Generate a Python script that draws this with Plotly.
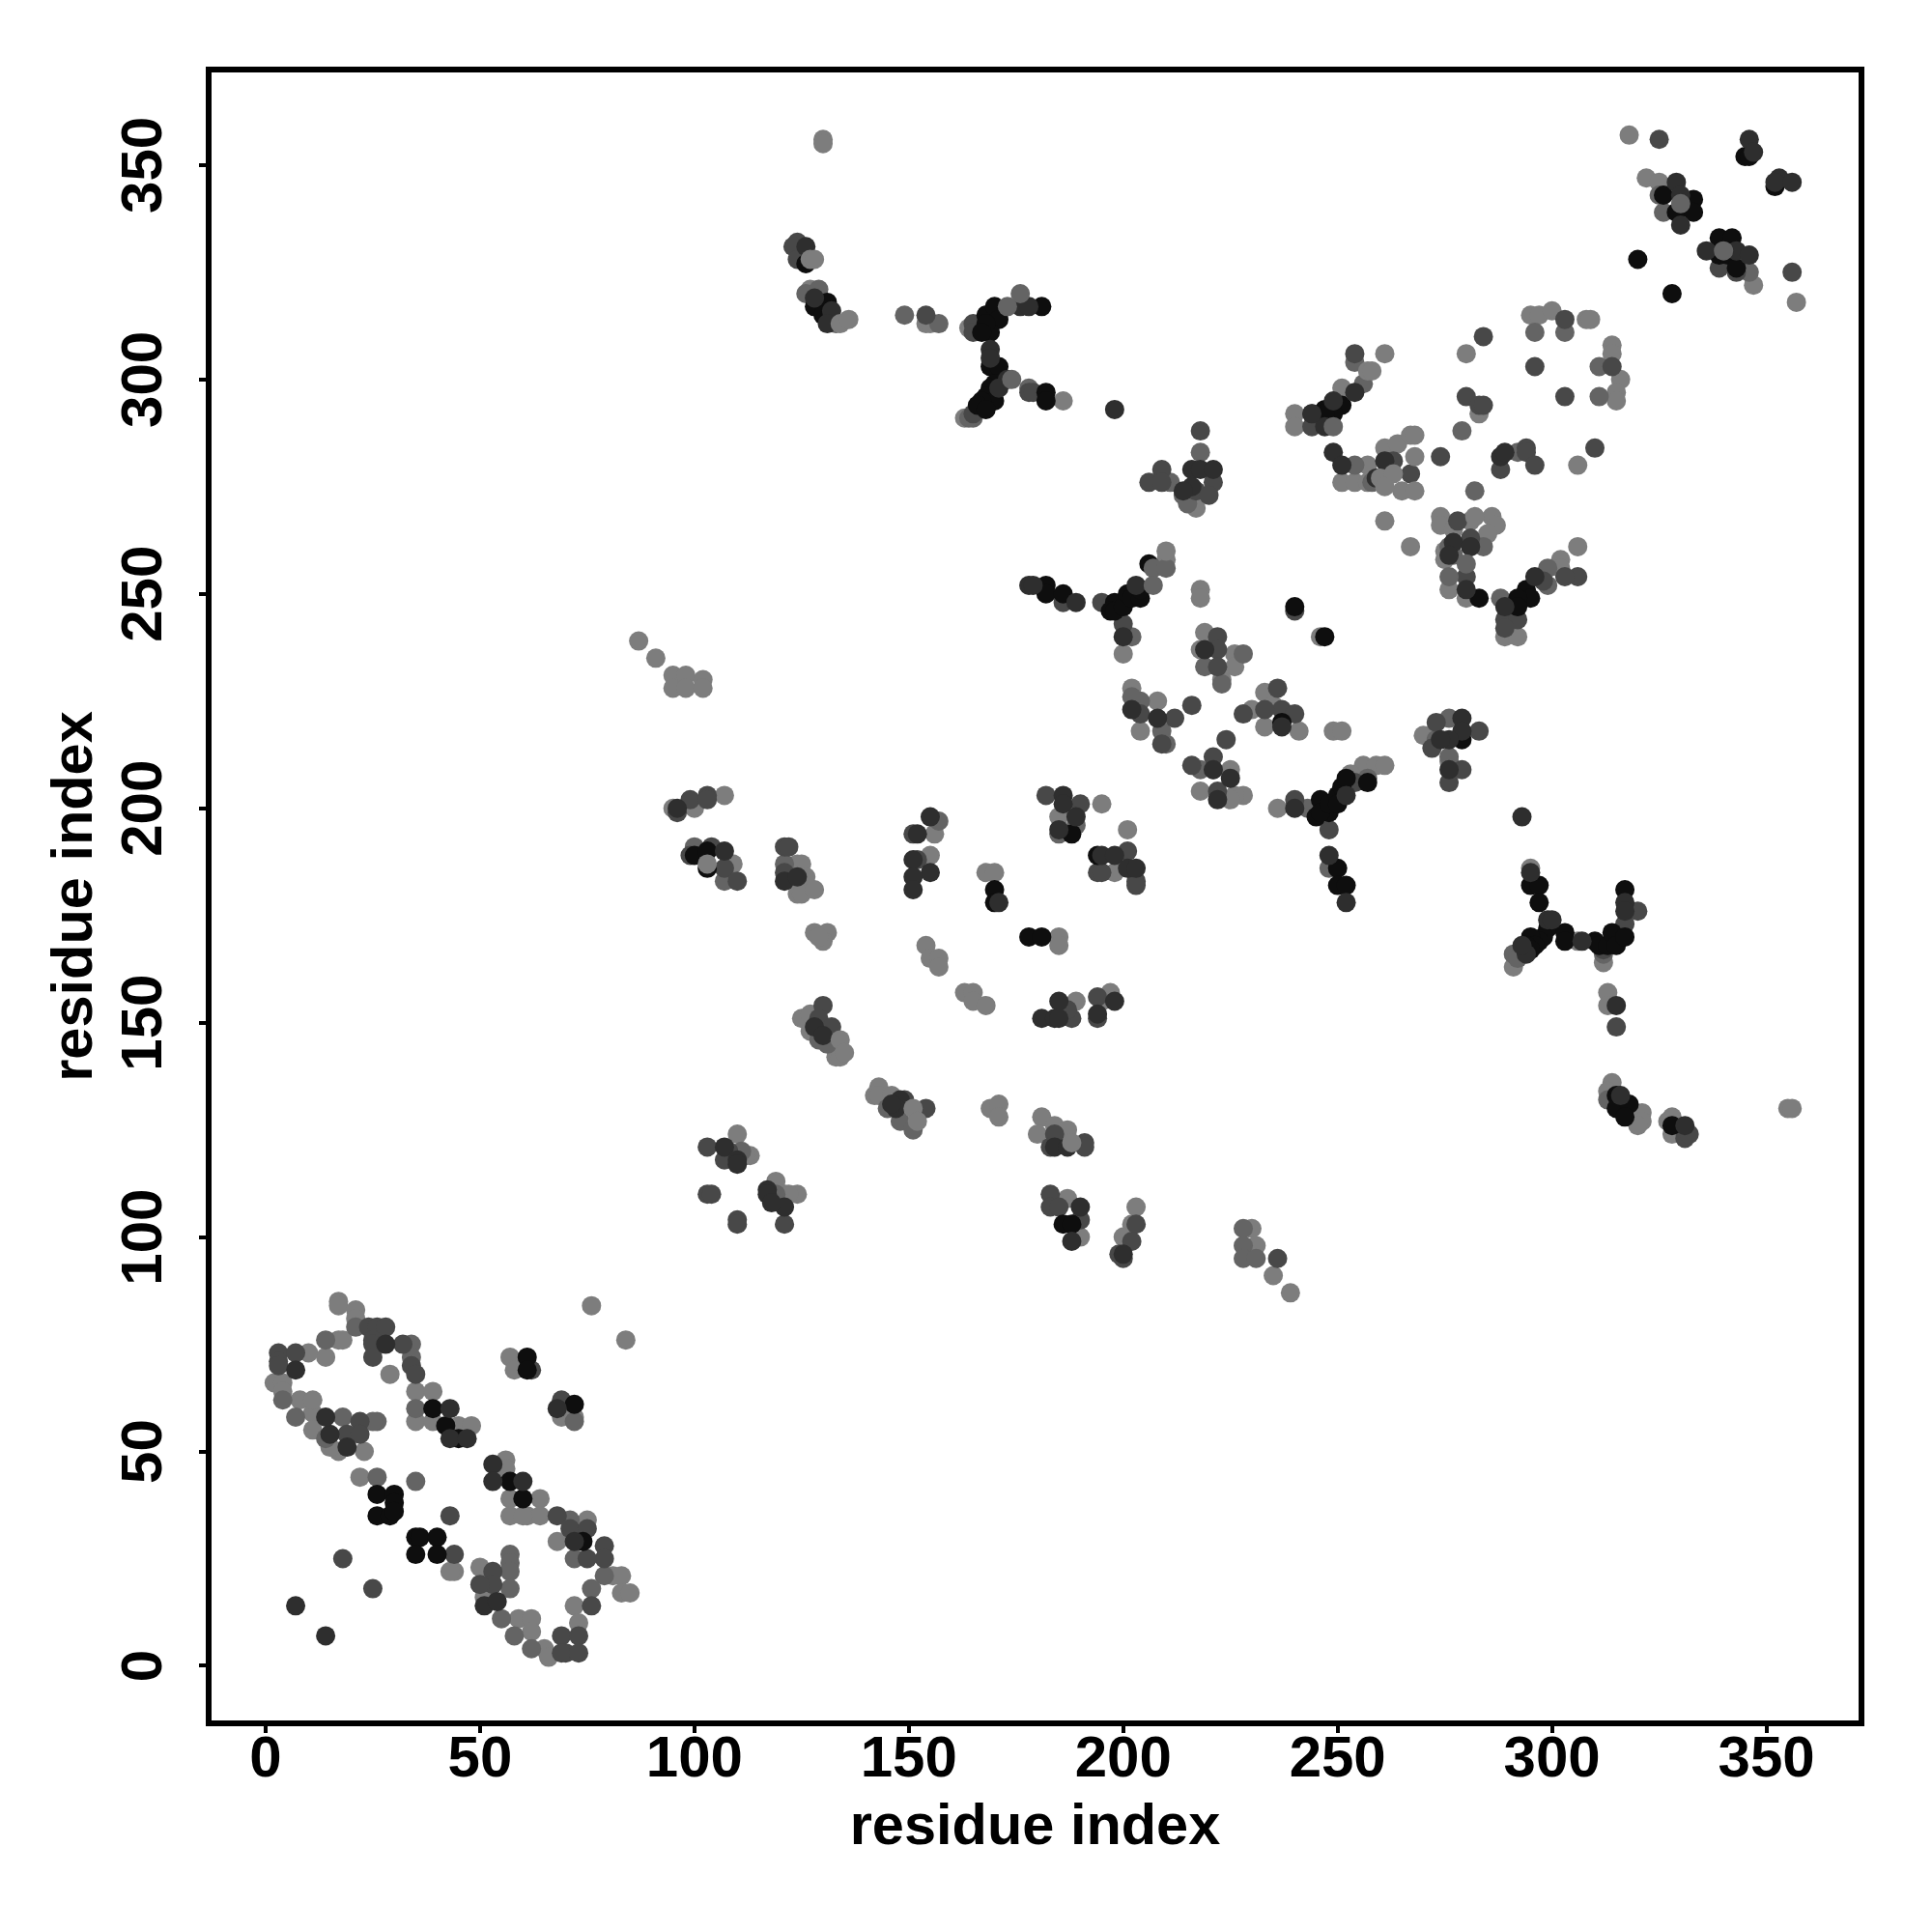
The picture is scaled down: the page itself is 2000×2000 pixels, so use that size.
import plotly.graph_objects as go

TICKS = [0, 50, 100, 150, 200, 250, 300, 350]
AXIS_TITLE = "residue index"

# [residue index, residue index] contact pairs, grouped by grey level
light = [(17,85),(17,84),(21,83),(21,81),(14,72),(10,73),(17,76),(18,76),(2,66),(4,66),(4,64),(29,68),(35,64),(39,64),(35,57),(39,57),
 (45,56),(48,56),(22,44),(23,50),(17,50),(15,51),(11,59),(8,62),(11,62),(11,55),(44,22),(43,22),(56,48),(56,46),(57,39),(64,39),(57,35),
 (61,35),(64,35),(60,35),(68,29),(75,34),(50,23),(81,21),(83,21),(83,17),(85,17),(72,14),(73,10),(76,84),(84,76),(57,72),(58,69),(69,58),
 (72,58),(59,11),(62,11),(65,4),(66,2),(62,8),(50,19),(51,16),
 (130,356),(130,355),(127,321),(163,291),(154,313),(155,313),(164,312),(186,295),(217,270),
 (318,357),(322,347),(325,346),(347,322),(357,318),
 (280,306),(261,306),(295,315),(297,315),(300,316),(308,314),(309,314),(314,308),(314,306),(316,300),(315,297),(315,295),(283,292),
 (251,298),(240,292),(240,289),(257,280),(261,284),(264,285),(267,287),(268,287),(251,276),(254,276),(257,276),(265,274),(306,280),
 (261,267),(267,261),(274,268),(274,266),(286,268),(287,266),(277,265),(285,264),(281,267),(275,260),(275,258),(276,251),(280,249),
 (306,261),(302,258),(302,256),(289,240),(292,240),(246,240),
 (200,236),(210,258),(218,251),(218,249),(219,241),(218,237),(226,236),(226,233),(223,230),(202,228),(208,225),(204,218),(233,227),
 (230,223),(235,224),(233,219),(241,218),(249,218),(251,218),(225,209),(218,204),(228,203),(226,203),(225,202),(236,200),(256,210),
 (259,210),(261,210),(253,208),(270,217),(276,211),(195,201),(185,198),(201,195),(198,185),
 (295,186),(291,163),(306,169),(312,164),(313,157),(313,154),(314,136),(313,134),(321,129),(321,127),(320,126),(328,128),(327,127),(328,124),(355,130),(356,130),
 (87,239),(91,235),(95,231),(98,231),(102,230),(95,228),(98,228),(102,228),(95,200),(100,200),(107,203),(109,187),(124,187),(125,187),(126,184),
 (124,180),(125,180),(128,181),(128,171),(131,171),(130,169),(129,170),(154,168),(156,194),(155,189),(168,185),(170,185),
 (155,165),(157,165),(157,163),(163,157),(165,157),(165,155),(168,154),(185,170),(185,168),(189,155),(197,157),(195,155),(125,151),(127,152),(127,148),(133,142),(134,142),
 (143,135),(142,133),(143,133),(146,133),(169,130),(171,131),(171,128),(181,128),(180,124),(184,126),(187,125),(187,109),(190,100),(203,107),(202,103),(200,100),
 (110,124),(113,119),(112,119),(119,113),(121,110),(124,110),(122,110),(230,102),(231,98),(235,91),(239,87)]

mid = [(21,79),(14,76),(34,75),(34,72),(35,60),(18,58),(26,57),(25,57),(7,58),(4,62),(14,53),(26,44),(35,43),(57,26),(57,24),(57,22),(71,34),(72,25),(79,21),(76,18),(55,11),(58,7),(62,4),(72,57),(57,18),
 (126,320),(129,321),(133,313),(149,315),(157,313),(165,291),(164,291),(178,298),(218,283),(211,276),(214,273),(215,271),
 (325,343),(326,339),(346,325),
 (296,311),(303,311),(311,303),(311,296),(279,288),(254,304),(256,299),(258,276),(292,283),
 (284,261),(276,261),(277,259),(299,256),(299,252),(288,249),
 (202,240),(221,209),(218,209),(219,233),(204,225),(209,218),(210,215),(223,229),(243,200),(257,207),(248,186),(202,226),
 (276,221),(273,216),(276,212),(189,196),(185,194),
 (291,166),(292,165),(312,166),(313,132),(107,183),(121,187),(157,197),(100,191),
 (129,146),(131,145),(145,130),(148,127),(151,125),(228,102),(228,98),(228,95),(231,95),(111,120),(119,110),
 (282,274),(254,280)]

dark = [(24,79),(26,79),(28,79),(25,76),(25,75),(32,75),(3,73),(7,73),(3,71),(3,70),(34,70),(35,68),(22,57),(19,54),(22,54),(43,35),(44,26),(68,35),(71,32),(75,32),(79,28),(79,25),(75,25),(53,22),(76,14),(69,7),(73,7),(70,3),(69,3),(73,3),(18,25),(25,18),(53,19),(50,19),(62,69),(69,62),(25,72),
 (124,332),(123,331),(124,328),(154,315),(165,313),(165,311),(165,292),(178,297),(179,297),
 (218,288),(209,279),(206,276),(209,276),(221,276),(217,274),(220,273),
 (325,356),(339,326),(343,325),(356,325),
 (284,310),(254,306),(303,314),(296,303),(314,303),(303,296),(280,296),(283,294),(284,294),(244,292),(244,289),(263,281),(267,278),(274,282),(288,279),(294,284),(294,283),(296,280),(310,284),
 (278,267),(281,263),(280,254),(306,254),(303,254),(298,253),(289,244),(292,244),(289,242),(240,246),
 (186,248),(195,248),(200,243),(222,240),(222,237),(222,233),(204,222),(212,221),(209,215),(216,224),(236,228),(228,222),(237,223),(240,222),(233,223),(224,216),(221,212),(216,210),(222,204),(240,202),(248,195),(254,206),
 (273,220),(283,218),(272,214),(279,209),(276,206),(182,203),(190,201),(201,190),(194,185),(195,185),(203,183),(203,182),
 (320,176),(331,123),(332,124),(317,173),(312,167),(315,149),
 (96,199),(99,202),(103,203),(103,202),(99,189),(104,191),(107,186),(110,183),(121,191),(122,191),(121,185),(151,194),(152,188),
 (188,151),(187,153),(194,156),(194,151),(130,154),(129,151),(132,149),(149,132),(154,130),(184,124),(183,121),(191,122),(191,121),(183,110),(183,107),(185,107),(190,104),(203,103),(202,99),(199,96),(200,95),
 (103,121),(108,120),(107,118),(103,110),(104,110),(110,104),(110,103),(121,103),(236,95)]

vdark = [(7,69),(15,54),(14,58),(19,51),(43,60),(53,47),(53,43),(60,43),(43,53),(72,29),(68,60),(51,14),(54,15),(14,7),(7,14),(47,53),(28,75),
 (126,331),(128,319),(132,316),(131,313),(176,317),(178,317),(173,300),(171,298),(169,307),(169,305),(198,293),
 (216,279),(218,279),(221,279),(216,275),(214,274),
 (346,356),(347,353),(329,346),(330,343),(330,336),(353,347),(352,346),(356,346),(336,330),(343,330),(346,329),
 (254,297),(249,295),(247,289),(244,292),
 (249,283),(251,280),(261,281),(259,277),(288,282),(289,283),(277,262),(276,259),(281,261),(280,251),(296,254),(289,247),
 (178,252),(179,252),(189,248),(203,252),(252,203),(200,240),(219,237),(202,223),(208,221),(237,219),(221,209),(225,207),(222,202),(240,200),(252,178),(248,189),
 (279,221),(279,218),(276,216),(276,209),(274,216),(186,203),(186,201),(189,198),(185,195),(195,189),(198,189),(201,186),(203,186),
 (293,198),(295,185),(294,166),(293,168),(307,169),(317,178),(317,176),(315,154),(316,133),(331,126),(299,174),(300,174),
 (96,200),(107,190),(121,183),(124,184),(152,194),(151,188),(155,198),(155,185),(151,184),(151,181),(171,178),
 (148,132),(185,155),(181,151),(184,151),(185,151),(198,155),(194,152),(184,121),(190,107),(188,99),(200,96),(107,121),(110,118),(110,117),(117,111),(117,110),(121,107),(118,108),
 (128,149),(130,147),(147,130),(146,131),(187,121)]

black = [(39,60),(42,56),(45,53),(26,40),(30,40),(26,35),(29,35),(30,38),(30,36),(35,30),(36,30),(40,30),(35,26),(40,26),(57,43),(60,39),(61,72),(61,69),(72,61),(74,29),
 (126,327),(128,317),(131,318),(130,315),(168,315),(170,317),(171,314),(169,311),(168,313),(167,311),(181,317),(169,303),(171,303),(182,297),(182,295),(170,299),(169,298),(168,296),(170,295),(167,295),(166,294),(168,293),
 (345,352),(346,352),(326,343),(333,342),(329,339),(333,339),(352,345),(320,328),(328,320),(339,333),(342,333),(339,329),(341,329),(343,326),
 (251,294),(247,293),(249,292),(247,292),(283,249),(294,251),(295,249),(292,249),(292,247),(240,247),(247,240),
 (182,252),(182,250),(186,250),(198,248),(197,246),(198,246),(200,247),(201,250),(202,249),(204,249),(204,251),(206,257),(237,220),(245,198),(246,202),(248,199),(246,199),(248,201),(250,203),(250,201),(251,205),(252,207),(257,206),(250,186),(250,182),(252,182),(279,216),(188,194),(194,189),
 (295,182),(297,182),(297,178),(299,172),(298,170),(297,169),(295,170),(296,168),(294,168),(295,167),(303,171),(303,169),(310,169),(311,168),(313,168),(314,171),(315,168),(317,170),(317,181),(315,133),(315,130),(318,131),(317,128),(328,126),
 (100,189),(103,190),(103,186),(170,181),(170,178),(178,170),(181,170),(186,103),(188,103)]

top_mid = [(174,300),(173,317),(176,320),(249,289),(207,256),(207,252),(228,236),(280,257),(276,254),(210,256),(330,341),(340,330)]

top_light = [(127,328),(128,328),(134,313),(136,314),(257,302),(258,302),(268,282),(260,277),(263,278),(261,275),(268,274),(282,268),(210,260),
 (134,146),(135,143),(151,130),(152,127),(188,122),(103,187)]

LAYERS = [
    (light, "rgb(125,125,125)"),
    (mid, "rgb(100,100,100)"),
    (dark, "rgb(72,72,72)"),
    (black, "rgb(14,14,14)"),
    (vdark, "rgb(46,46,46)"),
    (top_mid, "rgb(100,100,100)"),
    (top_light, "rgb(125,125,125)"),
]

fig = go.Figure()
for pts, colour in LAYERS:
    fig.add_trace(go.Scatter(x=[p[0] for p in pts], y=[p[1] for p in pts], mode="markers",
                             marker=dict(size=20, color=colour, line=dict(width=0)),
                             showlegend=False))

tick_font = dict(family="Liberation Sans", size=60, color="black", weight=700)
title_font = dict(family="Liberation Sans", size=59.5, color="black", weight=700)
axis = dict(
    showgrid=False, zeroline=False, showline=True, mirror=True,
    linecolor="black", linewidth=6,
    ticks="outside", ticklen=7, tickwidth=4, tickcolor="black",
    tickmode="array", tickvals=TICKS, ticktext=[str(t) for t in TICKS],
    tickfont=tick_font,
)
fig.update_layout(
    width=2000, height=2000, autosize=False,
    paper_bgcolor="white", plot_bgcolor="white",
    margin=dict(l=211, r=83.5, t=67.2, b=226.5, pad=0),
    xaxis=dict(axis, range=[-12.61, 371.5], tickangle=0, ticklabelstandoff=-27,
               title=dict(text=AXIS_TITLE, font=title_font, standoff=18)),
    yaxis=dict(axis, range=[-12.73, 371.6], tickangle=-90, ticklabelstandoff=15, ticklabelshift=9,
               title=dict(text=AXIS_TITLE, font=title_font, standoff=0)),
)
fig.write_html("out.html")
